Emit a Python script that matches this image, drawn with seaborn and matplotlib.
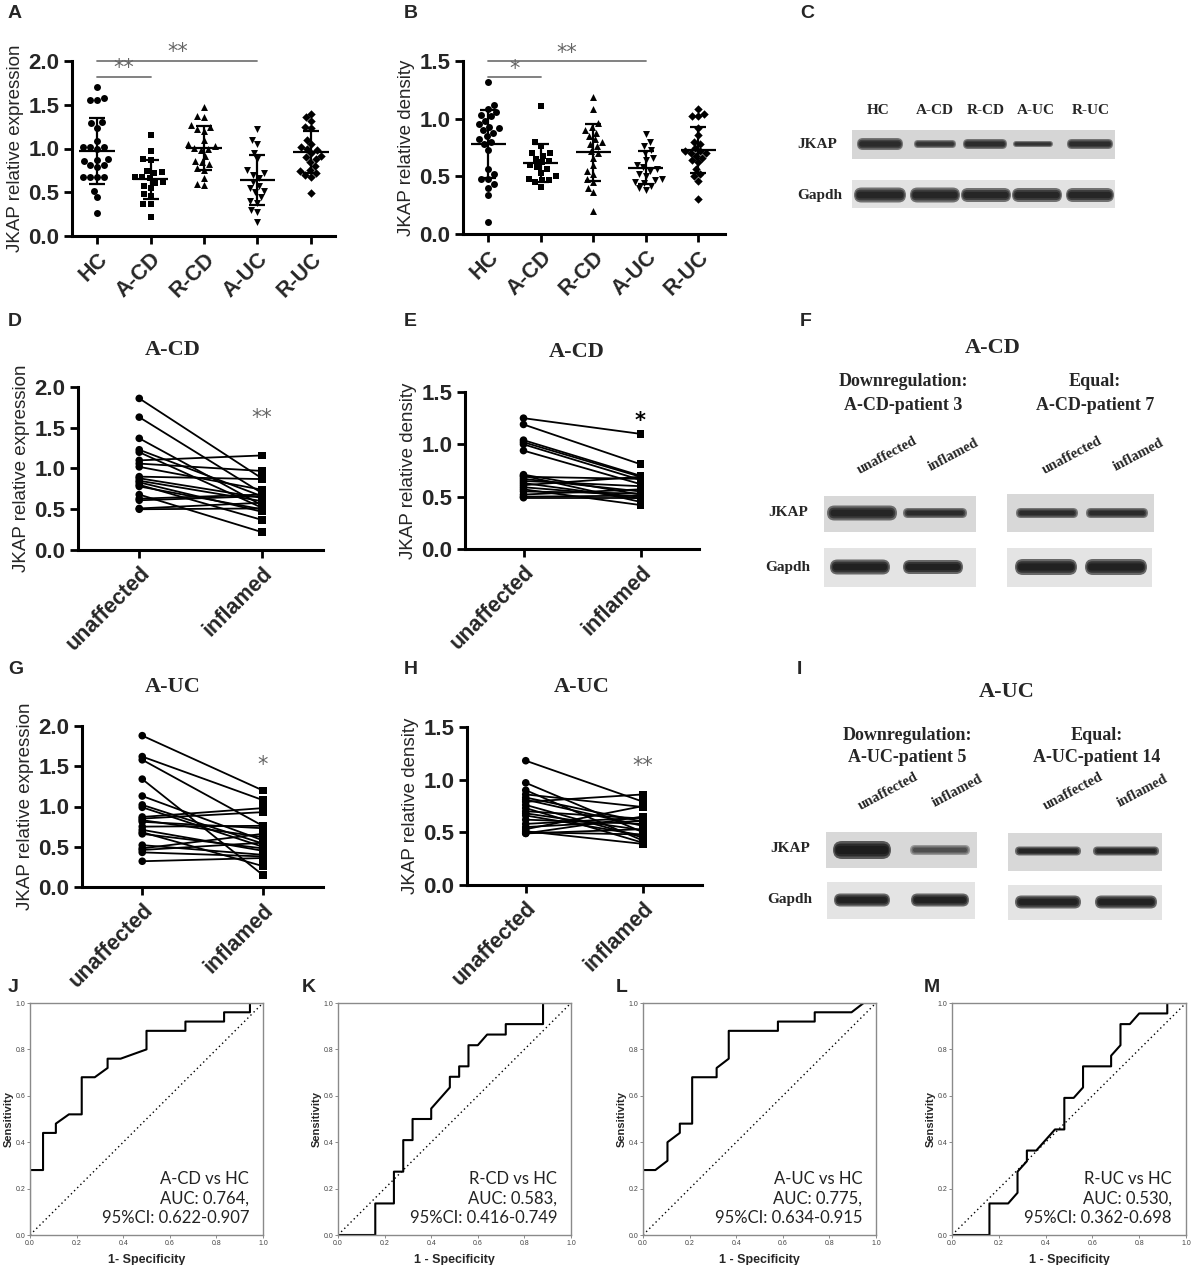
import numpy as np
import pandas as pd
import seaborn as sns
import matplotlib.pyplot as plt
from matplotlib.patches import Rectangle, FancyBboxPatch

# ---------------- data ----------------
groups = ['HC', 'A-CD', 'R-CD', 'A-UC', 'R-UC']
group_markers = ['o', 's', '^', 'v', 'D']
marker_sizes = [5, 5, 5, 5, 4.3]

# A: JKAP relative expression
expr_hc = [1.70, 1.58, 1.56, 1.56, 1.30, 1.24, 1.29, 1.09, 1.02, 1.02, 0.99, 1.02, 0.88,
           0.87, 0.86, 0.81, 0.79, 0.81, 0.67, 0.67, 0.67, 0.67, 0.52, 0.45, 0.26]
expr_acd = [1.16, 0.97, 0.88, 0.87, 0.74, 0.73, 0.72, 0.68, 0.67, 0.66, 0.62, 0.61, 0.57,
            0.55, 0.48, 0.46, 0.37, 0.37, 0.22]
expr_rcd = [1.48, 1.37, 1.36, 1.27, 1.25, 1.22, 1.20, 1.10, 1.05, 1.03, 1.01, 1.00, 0.98,
            0.92, 0.86, 0.85, 0.82, 0.78, 0.76, 0.66, 0.59, 0.58]
expr_auc = [1.22, 1.10, 1.05, 0.95, 0.88, 0.75, 0.72, 0.70, 0.66, 0.62, 0.57, 0.55, 0.52,
            0.50, 0.45, 0.40, 0.38, 0.30, 0.27, 0.16]
expr_ruc = [1.40, 1.36, 1.32, 1.25, 1.23, 1.10, 1.05, 1.02, 1.00, 0.98, 0.95, 0.92, 0.90,
            0.88, 0.85, 0.80, 0.75, 0.74, 0.72, 0.70, 0.68, 0.49]

# B: JKAP relative density
dens_hc = [1.32, 1.12, 1.08, 1.06, 1.03, 1.02, 0.98, 0.95, 0.93, 0.92, 0.90, 0.88, 0.85,
           0.82, 0.80, 0.78, 0.73, 0.56, 0.52, 0.48, 0.48, 0.43, 0.40, 0.34, 0.10]
dens_acd = [1.11, 0.80, 0.76, 0.70, 0.70, 0.68, 0.65, 0.63, 0.62, 0.60, 0.58, 0.56, 0.53,
            0.50, 0.48, 0.47, 0.47, 0.45, 0.41]
dens_rcd = [1.19, 1.08, 0.96, 0.93, 0.90, 0.88, 0.85, 0.82, 0.80, 0.78, 0.76, 0.72, 0.70,
            0.66, 0.60, 0.55, 0.52, 0.48, 0.45, 0.40, 0.36, 0.20]
dens_auc = [0.87, 0.80, 0.76, 0.73, 0.70, 0.66, 0.64, 0.60, 0.58, 0.56, 0.55, 0.52, 0.50,
            0.48, 0.47, 0.45, 0.44, 0.42, 0.40, 0.38]
dens_ruc = [1.08, 1.04, 1.02, 1.02, 0.92, 0.86, 0.80, 0.78, 0.75, 0.72, 0.72, 0.70, 0.70,
            0.68, 0.66, 0.64, 0.62, 0.56, 0.52, 0.50, 0.46, 0.30]

sites = ['unaffected', 'inflamed']
# D: A-CD expression, paired
d_unaff = [1.86, 1.63, 1.37, 1.23, 1.20, 1.10, 1.06, 1.02, 0.90, 0.88, 0.85, 0.83, 0.80,
           0.78, 0.68, 0.63, 0.61, 0.51, 0.50]
d_infl = [0.88, 0.70, 0.55, 0.66, 0.52, 1.16, 0.97, 0.74, 0.87, 0.64, 0.60, 0.47, 0.37,
          0.50, 0.22, 0.68, 0.66, 0.58, 0.51]
# E: A-CD density, paired
e_unaff = [1.25, 1.19, 1.04, 1.02, 1.00, 0.94, 0.71, 0.70, 0.69, 0.67, 0.65, 0.63, 0.61,
           0.59, 0.57, 0.55, 0.52, 0.50, 0.49]
e_infl = [1.10, 0.81, 0.70, 0.69, 0.66, 0.62, 0.52, 0.45, 0.67, 0.55, 0.60, 0.48, 0.69,
          0.50, 0.42, 0.53, 0.57, 0.51, 0.49]
# G: A-UC expression, paired
g_unaff = [1.88, 1.62, 1.58, 1.34, 1.13, 1.02, 0.99, 0.87, 0.85, 0.83, 0.81, 0.75, 0.71,
           0.68, 0.66, 0.52, 0.48, 0.46, 0.43, 0.32]
g_infl = [1.20, 1.08, 0.76, 0.15, 0.58, 0.54, 0.50, 0.98, 0.93, 0.62, 0.73, 0.76, 0.45,
          0.26, 0.48, 0.40, 0.66, 0.55, 0.38, 0.36]
# H: A-UC density, paired
h_unaff = [1.18, 0.97, 0.90, 0.86, 0.83, 0.81, 0.79, 0.76, 0.73, 0.70, 0.68, 0.66, 0.62,
           0.58, 0.55, 0.53, 0.51, 0.50, 0.49, 0.49]
h_infl = [0.79, 0.50, 0.42, 0.74, 0.60, 0.56, 0.86, 0.45, 0.40, 0.63, 0.52, 0.47, 0.58,
          0.64, 0.61, 0.75, 0.39, 0.48, 0.65, 0.53]

# J-M: ROC curves (1 - specificity, sensitivity)
roc_j_fpr = [0, 0, 0.056, 0.056, 0.111, 0.111, 0.167, 0.222, 0.222, 0.278, 0.333, 0.333,
             0.389, 0.5, 0.5, 0.667, 0.667, 0.833, 0.833, 0.944, 0.944, 1.0]
roc_j_tpr = [0, 0.28, 0.28, 0.44, 0.44, 0.48, 0.52, 0.52, 0.68, 0.68, 0.72, 0.76,
             0.76, 0.80, 0.88, 0.88, 0.92, 0.92, 0.96, 0.96, 1.0, 1.0]
roc_k_fpr = [0, 0.16, 0.16, 0.24, 0.24, 0.28, 0.28, 0.32, 0.32, 0.40, 0.40, 0.48, 0.48,
             0.52, 0.52, 0.56, 0.56, 0.60, 0.64, 0.72, 0.72, 0.88, 0.88, 1.0]
roc_k_tpr = [0, 0, 0.136, 0.136, 0.273, 0.273, 0.409, 0.409, 0.5, 0.5, 0.545, 0.636, 0.682,
             0.682, 0.727, 0.727, 0.818, 0.818, 0.864, 0.864, 0.909, 0.909, 1.0, 1.0]
roc_l_fpr = [0, 0, 0.053, 0.105, 0.105, 0.158, 0.158, 0.211, 0.211, 0.316, 0.316, 0.368,
             0.368, 0.579, 0.579, 0.737, 0.737, 0.895, 0.947, 1.0]
roc_l_tpr = [0, 0.28, 0.28, 0.32, 0.40, 0.44, 0.48, 0.48, 0.68, 0.68, 0.72, 0.76,
             0.88, 0.88, 0.92, 0.92, 0.96, 0.96, 1.0, 1.0]
roc_m_fpr = [0, 0.16, 0.16, 0.24, 0.28, 0.28, 0.32, 0.32, 0.36, 0.44, 0.48, 0.48, 0.52,
             0.56, 0.56, 0.68, 0.68, 0.72, 0.72, 0.76, 0.80, 0.92, 0.92, 1.0]
roc_m_tpr = [0, 0, 0.136, 0.136, 0.182, 0.273, 0.318, 0.364, 0.364, 0.455, 0.455, 0.591,
             0.591, 0.636, 0.727, 0.727, 0.773, 0.818, 0.909, 0.909, 0.955, 0.955, 1.0, 1.0]
roc_text = {
    'J': ['A-CD vs HC', 'AUC: 0.764,', '95%CI: 0.622-0.907'],
    'K': ['R-CD vs HC', 'AUC: 0.583,', '95%CI: 0.416-0.749'],
    'L': ['A-UC vs HC', 'AUC: 0.775,', '95%CI: 0.634-0.915'],
    'M': ['R-UC vs HC', 'AUC: 0.530,', '95%CI: 0.362-0.698'],
}

# ---------------- figure ----------------
W, H = 1192, 1265
sns.set_theme(style='ticks')
plt.rcParams['font.family'] = ['Liberation Sans', 'DejaVu Sans']
plt.rcParams['axes.facecolor'] = 'none'
SERIF = ['Liberation Serif', 'DejaVu Serif']

fig = plt.figure(figsize=(W / 100, H / 100), dpi=100)
fig.patch.set_facecolor('white')

# overlay in pixel coordinates for blots and free text
ov = fig.add_axes([0, 0, 1, 1])
ov.set_xlim(0, W)
ov.set_ylim(H, 0)
ov.axis('off')


def px_axes(l, t, r, b):
    return fig.add_axes([l / W, 1 - b / H, (r - l) / W, (b - t) / H])


def prism(ax, ymax, xlim, ylabel, xlabels):
    ax.set_xlim(*xlim)
    ax.set_ylim(0, ymax)
    yt = np.arange(0, ymax + 0.01, 0.5)
    ax.set_yticks(yt)
    ax.set_yticklabels([f'{v:.1f}' for v in yt], fontsize=16, fontweight='bold')
    ax.set_xticks(range(len(xlabels)))
    ax.set_xticklabels(xlabels, rotation=45, ha='right', rotation_mode='anchor',
                       fontsize=15.5, fontweight='bold')
    ax.set_xlabel('')
    ax.set_ylabel(ylabel, fontsize=13.5, labelpad=3)
    sns.despine(ax=ax)
    for s in ('left', 'bottom'):
        ax.spines[s].set_linewidth(2.2)
        ax.spines[s].set_color('black')
    ax.tick_params(length=6, width=2, color='black', pad=3)


def star(ax, x, y, label, color='#666666', weight='normal'):
    ax.text(x, y, label, ha='center', va='center', fontsize=15, color=color,
            family='DejaVu Sans', fontweight=weight, clip_on=False)


def sig_bar(ax, x0, x1, y, label, dy):
    ax.plot([x0, x1], [y, y], color='#777777', lw=1.3, clip_on=False)
    star(ax, (x0 + x1) / 2, y + dy, label)


def column_scatter(ax, values, ylabel, ymax, xlim):
    df = pd.DataFrame({'group': np.repeat(groups, [len(v) for v in values]),
                       'value': np.concatenate(values)})
    for g, m, sz in zip(groups, group_markers, marker_sizes):
        sns.swarmplot(data=df[df['group'] == g], x='group', y='value', order=groups,
                      marker=m, color='black', size=sz, ax=ax)
    st = df.groupby('group', sort=False)['value'].agg(['mean', 'std']).reindex(groups)
    xs = np.arange(len(groups))
    ax.hlines(st['mean'], xs - 0.33, xs + 0.33, color='black', lw=1.6, zorder=4)
    ax.errorbar(xs, st['mean'], yerr=st['std'], fmt='none', ecolor='black',
                elinewidth=1.6, capsize=6, capthick=1.6, zorder=4)
    prism(ax, ymax, xlim, ylabel, groups)


def paired(ax, before, after, ylabel, ymax):
    n = len(before)
    df = pd.DataFrame({'pair': np.tile(np.arange(n), 2),
                       'site': np.repeat([0, 1], n),
                       'value': np.concatenate([before, after])})
    sns.lineplot(data=df, x='site', y='value', units='pair', estimator=None,
                 color='black', lw=1.3, ax=ax)
    sns.scatterplot(data=df, x='site', y='value', style='site', markers={0: 'o', 1: 's'},
                    color='black', s=30, linewidth=0, legend=False, ax=ax, zorder=3)
    prism(ax, ymax, (-0.5, 1.5), ylabel, sites)


def roc(ax, fpr, tpr, lines, xlabel):
    df = pd.DataFrame({'fpr': fpr, 'tpr': tpr})
    sns.lineplot(data=df, x='fpr', y='tpr', sort=False, estimator=None,
                 color='black', lw=1.5, ax=ax)
    ax.plot([0, 1], [0, 1], ls=(0, (1, 2.2)), color='black', lw=1.0)
    ax.set_xlim(0, 1)
    ax.set_ylim(0, 1)
    t = np.round(np.arange(0, 1.01, 0.2), 1)
    ax.set_xticks(t)
    ax.set_yticks(t)
    ax.set_xticklabels([f'{v:.1f}' for v in t])
    ax.set_yticklabels([f'{v:.1f}' for v in t])
    ax.tick_params(labelsize=5, length=2, width=0.6, color='#777777',
                   labelcolor='#444444', pad=1.5)
    for s in ax.spines.values():
        s.set_visible(True)
        s.set_color('#8a8a8a')
        s.set_linewidth(1.0)
    ax.set_xlabel(xlabel, fontsize=9, fontweight='bold', labelpad=5)
    ax.set_ylabel('Sensitivity', fontsize=8, fontweight='bold', labelpad=1)
    for i, s in enumerate(lines):
        ax.text(0.94, 0.24 - i * 0.083, s, ha='right', va='center', fontsize=12,
                family=['Lato', 'DejaVu Sans'], color='#222222')


def blot(x0, y0, x1, y1, cy, bands, shade):
    ov.add_patch(Rectangle((x0, y0), x1 - x0, y1 - y0, facecolor=shade, edgecolor='none'))
    for cx, w, h, a in bands:
        for f in (1.0, 0.72, 0.45):
            bw, bh = w * (0.82 + 0.18 * f), h * f
            ov.add_patch(FancyBboxPatch((cx - bw / 2, cy - bh / 2), bw, bh,
                                        boxstyle=f'round,pad=0,rounding_size={bh / 2:.1f}',
                                        facecolor='#141414', edgecolor='none', alpha=a))


def serif(x, y, s, size=11, **kw):
    ov.text(x, y, s, fontsize=size, fontweight='bold', family=SERIF,
            ha=kw.pop('ha', 'center'), va=kw.pop('va', 'center'), **kw)


# ---- A ----
axA = px_axes(72, 61, 335, 236)
column_scatter(axA, [expr_hc, expr_acd, expr_rcd, expr_auc, expr_ruc],
               'JKAP relative expression', 2.0, (-0.47, 4.45))
sig_bar(axA, 0, 1, 1.82, '**', 0.1)
sig_bar(axA, 0, 3, 2.0, '**', 0.1)

# ---- B ----
axB = px_axes(463, 61, 725, 234)
column_scatter(axB, [dens_hc, dens_acd, dens_rcd, dens_auc, dens_ruc],
               'JKAP relative density', 1.5, (-0.48, 4.51))
sig_bar(axB, 0, 1, 1.36, '*', 0.07)
sig_bar(axB, 0, 3, 1.5, '**', 0.07)

# ---- D, E, G, H ----
axD = px_axes(78, 387, 323, 550)
paired(axD, d_unaff, d_infl, 'JKAP relative expression', 2.0)
star(axD, 1, 1.62, '**')
axE = px_axes(465, 392, 699, 549)
paired(axE, e_unaff, e_infl, 'JKAP relative density', 1.5)
star(axE, 1, 1.22, '*', color='black', weight='bold')
axG = px_axes(82, 726, 323, 887)
paired(axG, g_unaff, g_infl, 'JKAP relative expression', 2.0)
star(axG, 1, 1.51, '*')
axH = px_axes(467, 727, 702, 885)
paired(axH, h_unaff, h_infl, 'JKAP relative density', 1.5)
star(axH, 1, 1.13, '**')

serif(173, 350, 'A-CD', 16)
serif(577, 352, 'A-CD', 16)
serif(173, 687, 'A-UC', 16)
serif(582, 687, 'A-UC', 16)

# ---- C: western blot ----
for x, s in zip([878, 935, 986, 1036, 1091], groups):
    serif(x, 110, s, 11)
serif(797, 144, 'JKAP', 11, ha='left')
serif(797, 195, 'Gapdh', 11, ha='left')
blot(852, 130, 1115, 159, 144,
     [(880, 46, 12, 0.5), (935, 42, 8, 0.45), (985, 44, 10, 0.5),
      (1033, 40, 6, 0.45), (1090, 46, 10, 0.5)], '#d6d6d6')
blot(852, 180, 1115, 208, 195,
     [(880, 52, 15, 0.55), (935, 50, 15, 0.55), (986, 50, 14, 0.55),
      (1037, 50, 14, 0.55), (1090, 48, 14, 0.55)], '#e2e2e2')

# ---- F: A-CD blots ----
serif(993, 348, 'A-CD', 16)
serif(903, 382, 'Downregulation:', 13)
serif(903, 406, 'A-CD-patient 3', 13)
serif(1095, 382, 'Equal:', 13)
serif(1095, 406, 'A-CD-patient 7', 13)
for x, s in zip([887, 953, 1072, 1138], sites * 2):
    serif(x, 455, s, 10.5, rotation=28, rotation_mode='anchor')
serif(808, 513, 'JKAP', 11, ha='right')
serif(810, 567, 'Gapdh', 11, ha='right')
blot(824, 496, 976, 532, 513, [(862, 70, 15, 0.55), (935, 64, 10, 0.5)], '#d8d8d8')
blot(1007, 494, 1154, 532, 513, [(1047, 62, 10, 0.5), (1117, 62, 10, 0.5)], '#d8d8d8')
blot(824, 548, 976, 587, 567, [(860, 60, 15, 0.6), (933, 60, 14, 0.6)], '#e4e4e4')
blot(1007, 548, 1152, 587, 567, [(1046, 62, 16, 0.6), (1116, 62, 16, 0.6)], '#e4e4e4')

# ---- I: A-UC blots ----
serif(1007, 692, 'A-UC', 16)
serif(907, 735, 'Downregulation:', 13)
serif(907, 758, 'A-UC-patient 5', 13)
serif(1097, 735, 'Equal:', 13)
serif(1097, 758, 'A-UC-patient 14', 13)
for x, s in zip([888, 957, 1073, 1142], sites * 2):
    serif(x, 791, s, 10.5, rotation=28, rotation_mode='anchor')
serif(810, 848, 'JKAP', 11, ha='right')
serif(812, 900, 'Gapdh', 11, ha='right')
blot(826, 832, 977, 868, 850, [(862, 58, 18, 0.65), (940, 60, 10, 0.33)], '#d8d8d8')
blot(1008, 833, 1162, 871, 851, [(1048, 66, 9, 0.55), (1126, 66, 9, 0.55)], '#d8d8d8')
blot(827, 882, 975, 919, 900, [(862, 56, 13, 0.6), (940, 58, 13, 0.6)], '#e4e4e4')
blot(1008, 885, 1162, 920, 902, [(1048, 66, 13, 0.6), (1126, 62, 13, 0.6)], '#e4e4e4')

# ---- J-M: ROC ----
roc(px_axes(30, 1003, 263, 1235), roc_j_fpr, roc_j_tpr, roc_text['J'], '1- Specificity')
roc(px_axes(338, 1003, 571, 1235), roc_k_fpr, roc_k_tpr, roc_text['K'], '1 - Specificity')
roc(px_axes(643, 1003, 876, 1235), roc_l_fpr, roc_l_tpr, roc_text['L'], '1 - Specificity')
roc(px_axes(952, 1003, 1186, 1235), roc_m_fpr, roc_m_tpr, roc_text['M'], '1 - Specificity')

# ---- panel letters ----
letters = {'A': (8, 14), 'B': (404, 14), 'C': (800, 14),
           'D': (8, 322), 'E': (404, 322), 'F': (800, 322),
           'G': (8, 670), 'H': (404, 670), 'I': (797, 670),
           'J': (8, 988), 'K': (302, 988), 'L': (616, 988), 'M': (924, 988)}
for k, (x, y) in letters.items():
    ov.text(x, y, k, fontsize=14, fontweight='bold', ha='left', va='center')

fig.savefig('out.png', dpi=100, facecolor='white')
